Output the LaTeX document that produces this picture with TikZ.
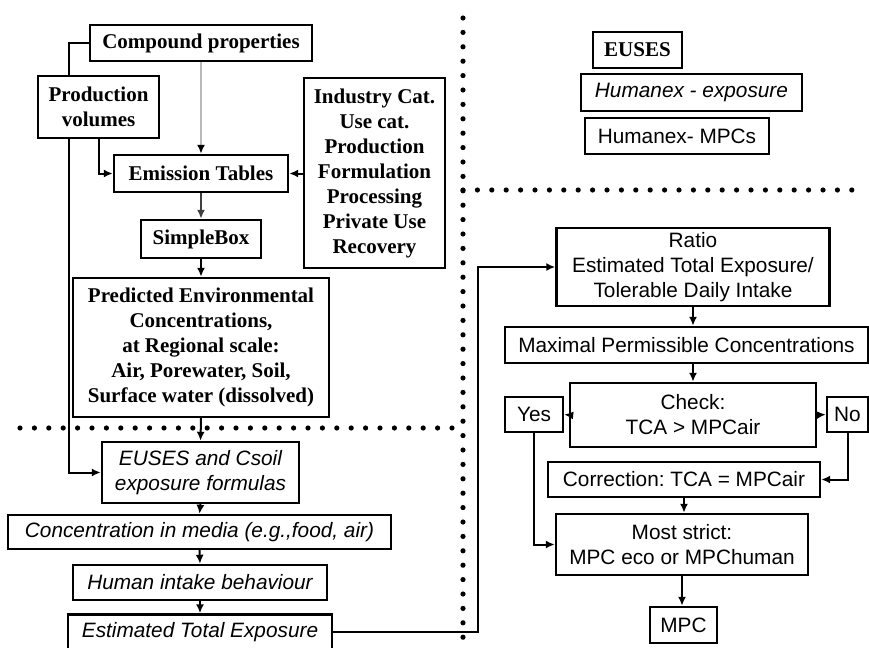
\documentclass[tikz,border=0pt]{standalone}
\usepackage{fontspec}
\setmainfont{Liberation Serif}
\setsansfont{Liberation Sans}
\usetikzlibrary{arrows.meta}
\frenchspacing

\begin{document}
\begin{tikzpicture}[x=0.5pt, y=-0.5pt,
    box/.style={draw, line width=1.2pt, align=center, inner sep=0pt},
    serifbox/.style={box, font=\fontsize{10.5}{12.5}\selectfont\bfseries},
    sansbox/.style={box, font=\fontsize{10.4}{12.5}\selectfont\sffamily},
    italbox/.style={box, font=\fontsize{10.4}{12.5}\selectfont\sffamily\itshape},
    arr/.style={line width=1pt, -{Latex[length=4.5pt,width=4pt]}},
    dotline/.style={line width=2.6pt, line cap=round, dash pattern=on 0pt off 7.2pt}]
\useasboundingbox (0,0) rectangle (869,648);

% Separators between the three panels
\draw[dotline] (20,428) -- (463,428);
\draw[dotline] (463,18) -- (463,648);
\draw[dotline] (463,190) -- (862,190);

% Environmental part (top left)
\node[serifbox, minimum width=111pt, minimum height=18pt] (comp) at (201,43) {Compound properties};
\node[serifbox, minimum width=60.5pt, minimum height=31pt] (prodvol) at (98.5,107) {Production\\volumes};
\node[serifbox, minimum width=87pt, minimum height=18.5pt] (emis) at (201,173.5) {Emission Tables};
\node[serifbox, minimum width=70.5pt, minimum height=95pt] (industry) at (374.5,173) {Industry Cat.\\Use cat.\\Production\\Formulation\\Processing\\Private Use\\Recovery};
\node[serifbox, minimum width=60pt, minimum height=19pt] (simple) at (201,239) {SimpleBox};
\node[serifbox, minimum width=128pt, minimum height=69.5pt] (pec) at (201,347.5) {Predicted Environmental\\Concentrations,\\at Regional scale:\\Air, Porewater, Soil,\\Surface water (dissolved)};

% Human exposure part (bottom left)
\node[italbox, minimum width=98.5pt, minimum height=30.5pt] (euses) at (200.5,472.5) {EUSES and Csoil\\exposure formulas};
\node[italbox, minimum width=191.5pt, minimum height=17pt] (conc) at (199.5,532) {Concentration in media (e.g.,food, air)};
\node[italbox, minimum width=127pt, minimum height=17.5pt] (human) at (200,582.5) {Human intake behaviour};
\node[italbox, minimum width=132pt, minimum height=17.5pt] (ete) at (200,632) {Estimated Total Exposure};

% Legend (top right)
\node[serifbox, minimum width=44.5pt, minimum height=18pt] (legeuses) at (637.5,50) {EUSES};
\node[italbox, minimum width=110.5pt, minimum height=18.5pt] (leghexp) at (691.5,92.5) {Humanex - exposure};
\node[sansbox, minimum width=92pt, minimum height=18pt] (leghmpc) at (677,136) {Humanex- MPCs};

% MPC derivation (bottom right)
\node[sansbox, minimum width=136.5pt, minimum height=39pt] (ratio) at (693,267) {Ratio\\Estimated Total Exposure/\\Tolerable Daily Intake};
\node[sansbox, minimum width=181.5pt, minimum height=18pt] (maxpc) at (686.5,345) {Maximal Permissible Concentrations};
\node[sansbox, minimum width=123pt, minimum height=32pt] (check) at (693,415) {Check:\\TCA > MPCair};
\node[sansbox, minimum width=29pt, minimum height=17.5pt] (yes) at (534,414.5) {Yes};
\node[sansbox, minimum width=20.5pt, minimum height=17.5pt] (no) at (847.5,414.5) {No};
\node[sansbox, minimum width=136pt, minimum height=17.5pt] (corr) at (684,479.5) {Correction: TCA = MPCair};
\node[sansbox, minimum width=126pt, minimum height=30.5pt] (strict) at (682,544.5) {Most strict:\\MPC eco or MPChuman};
\node[sansbox, minimum width=33.5pt, minimum height=18pt] (mpc) at (683.5,625) {MPC};

% Bends of the long connectors
\coordinate (lx) at (69,0);
\coordinate (rx) at (478,0);

% Connectors, left
\draw[line width=1pt] (comp.west) -| (prodvol.north -| lx);
\draw[arr] (prodvol.south -| lx) |- (euses.west);
\draw[arr] (prodvol.south) |- (emis.west);
\draw[arr, gray!55, -{Latex[length=4.5pt,width=4pt,color=black]}] (comp.south) -- (emis.north);
\draw[arr] (industry.west |- emis.east) -- (emis.east);
\draw[arr, black!75] (emis.south) -- (simple.north);
\draw[arr] (simple.south) -- (pec.north);
\draw[arr] (pec.south) -- (euses.north);
\draw[arr] (euses.south) -- (conc.north);
\draw[arr] (conc.south) -- (human.north);
\draw[arr] (human.south) -- (ete.north);

% Connectors, right
\draw[arr] (ete.east) -| (rx |- ratio.west) -- (ratio.west);
\draw[arr] (ratio.south) -- (ratio.south |- maxpc.north);
\draw[arr] (check.north |- maxpc.south) -- (check.north);
\draw[arr] (check.west) -- (yes.east);
\draw[arr] (check.east) -- (no.west);
\draw[arr] (no.south) |- (corr.east);
\draw[arr] (corr.south) -- (corr.south |- strict.north);
\draw[arr] (yes.south) |- (strict.west);
\draw[arr] (strict.south) -- (strict.south |- mpc.north);

\end{tikzpicture}
\end{document}
